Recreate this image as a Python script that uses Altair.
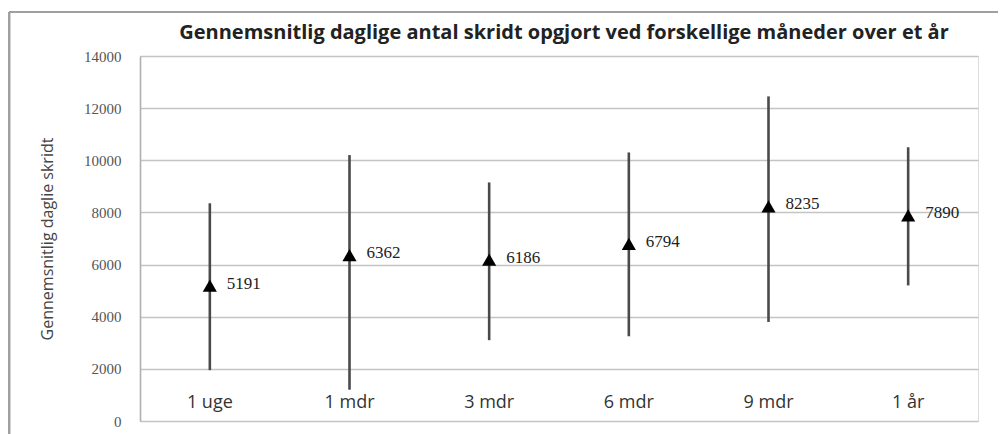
import altair as alt
import pandas as pd

categories = ["1 uge", "1 mdr", "3 mdr", "6 mdr", "9 mdr", "1 år"]
means = [5191, 6362, 6186, 6794, 8235, 7890]
lows = [1950, 1200, 3100, 3250, 3800, 5200]
highs = [8350, 10200, 9150, 10300, 12450, 10500]
y_ticks = [0, 2000, 4000, 6000, 8000, 10000, 12000, 14000]

df = pd.DataFrame({"cat": categories, "mean": means, "low": lows, "high": highs})

W, H = 838, 365

x_enc = alt.X("cat:N", sort=categories, title=None,
              scale=alt.Scale(paddingInner=0, paddingOuter=0),
              axis=alt.Axis(domain=False, ticks=False, labelAngle=0,
                            labelFont="Open Sans", labelFontSize=18,
                            labelColor="#333333", labelPadding=-28,
                            labelBaseline="top"))
y_scale = alt.Scale(domain=[0, 14000], nice=False)

base = alt.Chart(df)

bars = base.mark_rule(color="#4a4a4a", strokeWidth=2.6).encode(
    x=x_enc,
    y=alt.Y("low:Q", scale=y_scale, title="Gennemsnitlig daglie skridt",
            axis=alt.Axis(values=y_ticks, grid=True, gridColor="#c4c4c4",
                          gridWidth=1.6, domain=True, domainColor="#b0b0b0",
                          domainWidth=1.6, ticks=False, labelPadding=19,
                          format="d",
                          labelFont="Liberation Serif", labelFontSize=15,
                          labelColor="#555555", titleFont="Open Sans",
                          titleFontSize=16, titleFontWeight="normal",
                          titleColor="#444444", titlePadding=28)),
    y2="high:Q",
)

points = base.mark_point(shape="triangle-up", filled=True, color="#000000",
                         size=200, opacity=1).encode(
    x=alt.X("cat:N", sort=categories),
    y=alt.Y("mean:Q", scale=y_scale),
)

labels = base.mark_text(align="left", baseline="middle", dx=17, dy=-2,
                        font="Liberation Serif", fontSize=17,
                        color="#222222").encode(
    x=alt.X("cat:N", sort=categories),
    y=alt.Y("mean:Q", scale=y_scale),
    text=alt.Text("mean:Q", format="d"),
)

frame_top = alt.Chart(df).mark_rule(color="#a0a0a0", strokeWidth=2.2).encode(
    x=alt.value(-131), x2=alt.value(W + 20), y=alt.value(-44))
frame_left = alt.Chart(df).mark_rule(color="#a0a0a0", strokeWidth=2.2).encode(
    x=alt.value(-131), y=alt.value(-44), y2=alt.value(H + 20))

chart = alt.layer(frame_top, frame_left, bars, points, labels).properties(
    width=W, height=H,
    title=alt.TitleParams(
        "Gennemsnitlig daglige antal skridt opgjort ved forskellige måneder over et år",
        font="Open Sans", fontSize=20, fontWeight="bold", color="#222222",
        anchor="middle", offset=0, dy=32, dx=5, frame="group"),
    padding={"left": 132, "top": 48, "right": 20, "bottom": 13},
    autosize=alt.AutoSizeParams(type="none"),
).configure_view(stroke=None).configure(background="white")

chart.save("out.html", embed_options={"renderer": "svg", "actions": False})
